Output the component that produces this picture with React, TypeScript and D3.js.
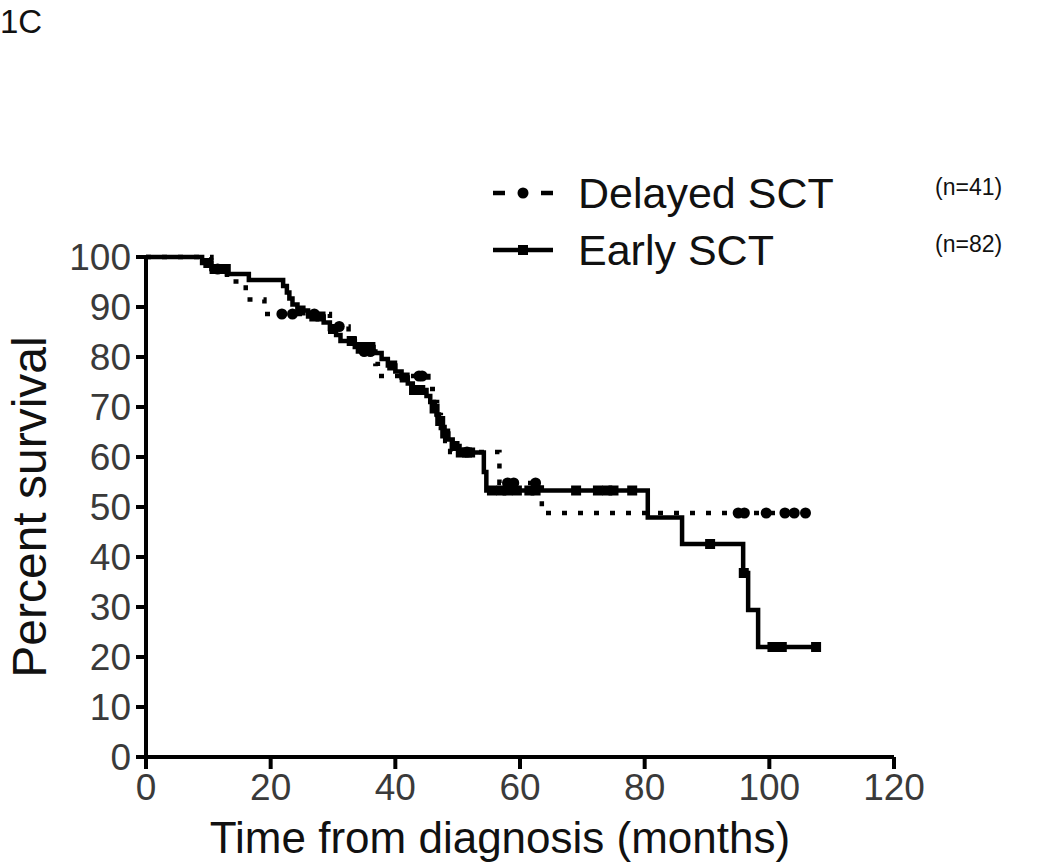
import React, { useEffect, useRef } from "react";
import * as d3 from "d3";

// Kaplan-Meier steps (time in months, percent survival)
const delayedTime = [0, 10.5, 13, 16, 19, 29.5, 32.5, 34, 36.8, 37.2, 45.3, 46, 46.7, 47.3, 48, 48.8, 56.7, 63.5];
const delayedSurv = [100, 97.6, 95.1, 91.5, 88.6, 86.1, 83.6, 81.1, 78.6, 76.2, 73.6, 71, 68.4, 65.8, 63.2, 61, 54.8, 48.8];
const delayedEnd = 106;
const delayedCensors = [11.5, 21.8, 23.5, 27, 31, 35, 36, 43.8, 44.3, 51.5, 58, 59, 62.5, 95, 96, 99.5, 102.5, 104, 105.8];

const earlyTime = [0, 9, 10.5, 13, 16.5, 22, 22.6, 23, 23.5, 24.3, 26, 28.5, 29.5, 30.5, 31.2, 33.5, 36.5, 37.8, 38.8, 40, 41, 42, 42.8, 45, 45.6, 46.2, 46.6, 47, 47.4, 47.9, 48.5, 49.2, 50.3, 54.2, 54.6, 80.5, 86, 95.8, 96.6, 98.2];
const earlySurv = [100, 98.8, 97.6, 96.6, 95.4, 94.2, 92.9, 91.7, 90.5, 89.3, 88.1, 86.9, 85.6, 84.4, 83.2, 82, 80.8, 79.6, 78.3, 77.1, 75.9, 74.7, 73.4, 72.2, 71, 69.7, 68.5, 67.2, 66, 64.7, 63.5, 62.2, 60.9, 57, 53.3, 47.9, 42.6, 36.8, 29.4, 22];
const earlyEnd = 107.8;
const earlyCensors = [10, 11, 12, 12.8, 24.8, 27, 28, 30, 33, 34.5, 35, 36, 39.5, 41.5, 43, 44, 46.3, 47.2, 48, 49.5, 50.5, 51.5, 52, 55.5, 57, 58, 59.5, 61.5, 62.5, 69, 72.5, 74, 75, 78, 90.5, 95.9, 100.5, 101.2, 102, 107.5];

const xTicks = [0, 20, 40, 60, 80, 100, 120];
const yTicks = [0, 10, 20, 30, 40, 50, 60, 70, 80, 90, 100];

const legendLabels = ["Delayed SCT", "Early SCT"];
const legendCounts = ["(n=41)", "(n=82)"];

function stepAt(times: number[], surv: number[], t: number) {
  let v = surv[0];
  for (let i = 0; i < times.length; i++) if (times[i] <= t) v = surv[i];
  return v;
}

export default function App() {
  const svgRef = useRef<SVGSVGElement>(null);
  const width = 1050;
  const height = 868;

  useEffect(() => {
    const svg = d3.select(svgRef.current);
    svg.selectAll("*").remove();
    const font = "'Liberation Sans', Arial, sans-serif";

    const x = d3.scaleLinear().domain([0, 120]).range([146, 894]);
    const y = d3.scaleLinear().domain([0, 100]).range([757, 257]);

    svg.append("text").attr("x", 0).attr("y", 33).attr("font-family", font)
      .attr("font-size", 33).attr("fill", "#111").text("1C");

    // axes
    const axis = svg.append("g").attr("stroke", "#000").attr("stroke-width", 4);
    axis.append("line").attr("x1", x(0)).attr("x2", x(120)).attr("y1", y(0)).attr("y2", y(0));
    axis.append("line").attr("x1", x(0)).attr("x2", x(0)).attr("y1", y(0) + 10).attr("y2", y(100));
    yTicks.forEach((t) => {
      axis.append("line").attr("x1", x(0) - 10).attr("x2", x(0)).attr("y1", y(t)).attr("y2", y(t));
      svg.append("text").attr("x", 131).attr("y", y(t)).attr("dy", "0.36em")
        .attr("text-anchor", "end").attr("font-family", font).attr("font-size", 37)
        .attr("fill", "#3a3a3a").text(t);
    });
    xTicks.forEach((t) => {
      axis.append("line").attr("x1", x(t)).attr("x2", x(t)).attr("y1", y(0)).attr("y2", y(0) + 12);
      svg.append("text").attr("x", x(t)).attr("y", 800)
        .attr("text-anchor", "middle").attr("font-family", font).attr("font-size", 37)
        .attr("fill", "#3a3a3a").text(t);
    });

    svg.append("text").attr("x", 500).attr("y", 853)
      .attr("text-anchor", "middle").attr("font-family", font).attr("font-size", 44)
      .attr("fill", "#111").text("Time from diagnosis (months)");
    svg.append("text").attr("transform", `translate(46,507) rotate(-90)`)
      .attr("text-anchor", "middle").attr("font-family", font).attr("font-size", 48)
      .attr("fill", "#111").text("Percent survival");

    const line = d3.line<[number, number]>()
      .x((d) => x(d[0])).y((d) => y(d[1])).curve(d3.curveStepAfter);

    const delayedPts: [number, number][] = delayedTime.map((t, i) => [t, delayedSurv[i]]);
    delayedPts.push([delayedEnd, delayedSurv[delayedSurv.length - 1]]);
    const earlyPts: [number, number][] = earlyTime.map((t, i) => [t, earlySurv[i]]);
    earlyPts.push([earlyEnd, earlySurv[earlySurv.length - 1]]);

    svg.append("path").attr("d", line(delayedPts)).attr("fill", "none")
      .attr("stroke", "#000").attr("stroke-width", 4.5).attr("stroke-dasharray", "5,11");
    svg.append("path").attr("d", line(earlyPts)).attr("fill", "none")
      .attr("stroke", "#000").attr("stroke-width", 4.5);

    svg.append("g").selectAll("circle").data(delayedCensors).enter().append("circle")
      .attr("cx", (d) => x(d)).attr("cy", (d) => y(stepAt(delayedTime, delayedSurv, d)))
      .attr("r", 5.5).attr("fill", "#000");
    svg.append("g").selectAll("rect").data(earlyCensors).enter().append("rect")
      .attr("x", (d) => x(d) - 5).attr("y", (d) => y(stepAt(earlyTime, earlySurv, d)) - 5)
      .attr("width", 10).attr("height", 10).attr("fill", "#000");

    // legend
    const ly = [193, 250];
    legendLabels.forEach((lab, i) => {
      const g = svg.append("g");
      if (i === 0) {
        g.append("line").attr("x1", 493).attr("x2", 553).attr("y1", ly[i]).attr("y2", ly[i])
          .attr("stroke", "#000").attr("stroke-width", 4.5).attr("stroke-dasharray", "12,8,0,28,12");
        g.append("circle").attr("cx", 523).attr("cy", ly[i]).attr("r", 5.5).attr("fill", "#000");
      } else {
        g.append("line").attr("x1", 493).attr("x2", 553).attr("y1", ly[i]).attr("y2", ly[i])
          .attr("stroke", "#000").attr("stroke-width", 4.5);
        g.append("rect").attr("x", 518).attr("y", ly[i] - 5).attr("width", 10).attr("height", 10).attr("fill", "#000");
      }
      g.append("text").attr("x", 578).attr("y", ly[i]).attr("dy", "0.36em")
        .attr("font-family", font).attr("font-size", 43).attr("fill", "#111").text(lab);
      g.append("text").attr("x", 935).attr("y", ly[i] - 6).attr("dy", "0.36em")
        .attr("font-family", font).attr("font-size", 23).attr("fill", "#111").text(legendCounts[i]);
    });
  }, []);

  return (
    <svg ref={svgRef} width={width} height={height}
      style={{ position: "absolute", left: 0, top: 0, background: "#fff" }} />
  );
}
